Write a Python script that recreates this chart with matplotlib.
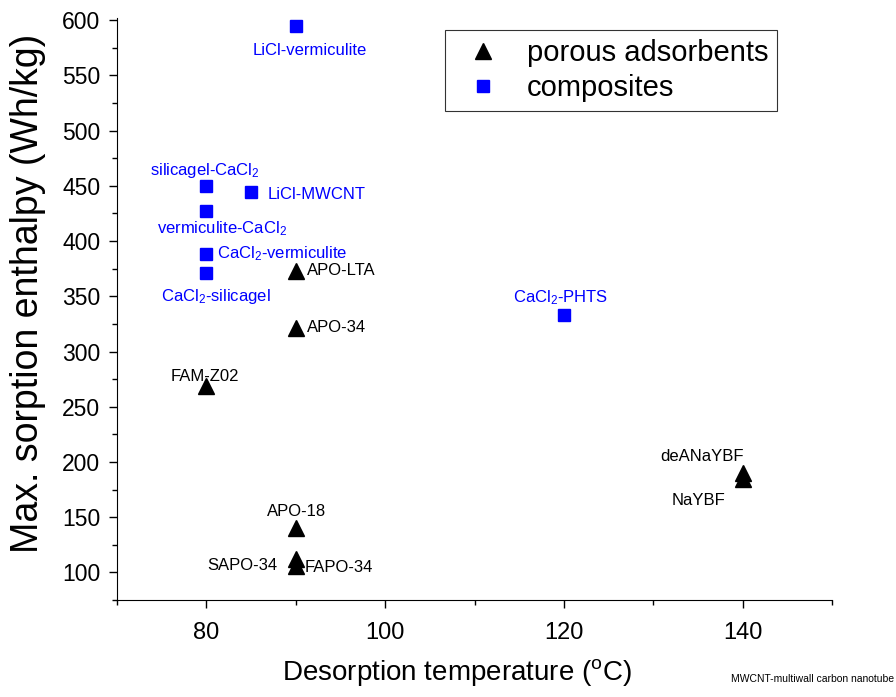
import numpy as np
import matplotlib.pyplot as plt
from matplotlib.ticker import MultipleLocator

plt.rcParams['font.family'] = 'Liberation Sans'
plt.rcParams['mathtext.fontset'] = 'custom'
plt.rcParams['mathtext.rm'] = 'Liberation Sans'
plt.rcParams['mathtext.it'] = 'Liberation Sans'

## data #################################
por_names = ['APO-LTA', 'APO-34', 'FAM-Z02', 'APO-18', 'SAPO-34', 'FAPO-34',
             'deANaYBF', 'NaYBF']
por_T = [90, 90, 80, 90, 90, 90, 140, 140]
por_H = [373, 321, 269, 140, 112, 106, 190, 185]

comp_names = ['LiCl-vermiculite', 'silicagel-CaCl$_2$', 'LiCl-MWCNT',
              'vermiculite-CaCl$_2$', 'CaCl$_2$-vermiculite', 'CaCl$_2$-silicagel',
              'CaCl$_2$-PHTS']
comp_T = [90, 80, 85, 80, 80, 80, 120]
comp_H = [595, 450, 444, 427, 388, 371, 333]

# label anchor (x, y, ha) for each point
por_lab = [(91.3, 373, 'left'), (91.3, 322, 'left'), (79.8, 277, 'center'),
           (90.1, 155, 'center'), (88.0, 106, 'right'), (91.0, 104, 'left'),
           (135.4, 205, 'center'), (135.1, 165, 'center')]
comp_lab = [(91.6, 573, 'center'), (79.8, 464, 'center'), (86.9, 442, 'left'),
            (81.7, 411, 'center'), (81.2, 389, 'left'), (81.1, 350, 'center'),
            (119.6, 349, 'center')]

## plot #################################
fig = plt.figure(figsize=(8.96, 6.97), dpi=100)
ax = fig.add_axes([117/896, 1-600/697, (832-117)/896, (600-18)/697])

ax.plot(por_T, por_H, '^', color='black', markersize=11, label='porous adsorbents')
ax.plot(comp_T, comp_H, 's', color='blue', markersize=9, label='composites')

for n, (x, y, ha) in zip(por_names, por_lab):
    ax.text(x, y, n, ha=ha, va='center', fontsize=12, color='black')
for n, (x, y, ha) in zip(comp_names, comp_lab):
    ax.text(x, y, n, ha=ha, va='center', fontsize=12, color='blue')

ax.set_xlim(70, 150)
ax.set_ylim(75, 602)
ax.xaxis.set_major_locator(MultipleLocator(20))
ax.xaxis.set_minor_locator(MultipleLocator(10))
ax.yaxis.set_major_locator(MultipleLocator(50))
ax.yaxis.set_minor_locator(MultipleLocator(25))
ax.set_yticks(np.arange(100, 601, 50))
ax.tick_params(which='major', direction='out', length=6, width=1)
ax.tick_params(which='minor', direction='out', length=3.5, width=1)
ax.tick_params(axis='x', labelsize=17, pad=10)
ax.tick_params(axis='y', labelsize=16.5, pad=6)
ax.spines['top'].set_visible(False)
ax.spines['right'].set_visible(False)

ax.set_xlabel('Desorption temperature ($^{\\rm o}$C)', fontsize=20, va='center')
ax.xaxis.set_label_coords((457 - 117) / 715, (600 - 672) / 582)
ax.set_ylabel('Max. sorption enthalpy (Wh/kg)', fontsize=27, va='center')
ax.yaxis.set_label_coords((28 - 117) / 715, (600 - 293) / 582)

leg = ax.legend(loc='upper right', bbox_to_anchor=((777 - 117) / 715, (600 - 30) / 582),
                fontsize=21, frameon=True, fancybox=False, edgecolor='black',
                borderpad=0.3, handlelength=2.0, handletextpad=0.5,
                labelspacing=0.25, borderaxespad=0)
leg.get_frame().set_linewidth(0.8)

fig.text(0.998, 0.022, 'MWCNT-multiwall carbon nanotube', ha='right', fontsize=7.5)

plt.savefig('out.png')
plt.close()
